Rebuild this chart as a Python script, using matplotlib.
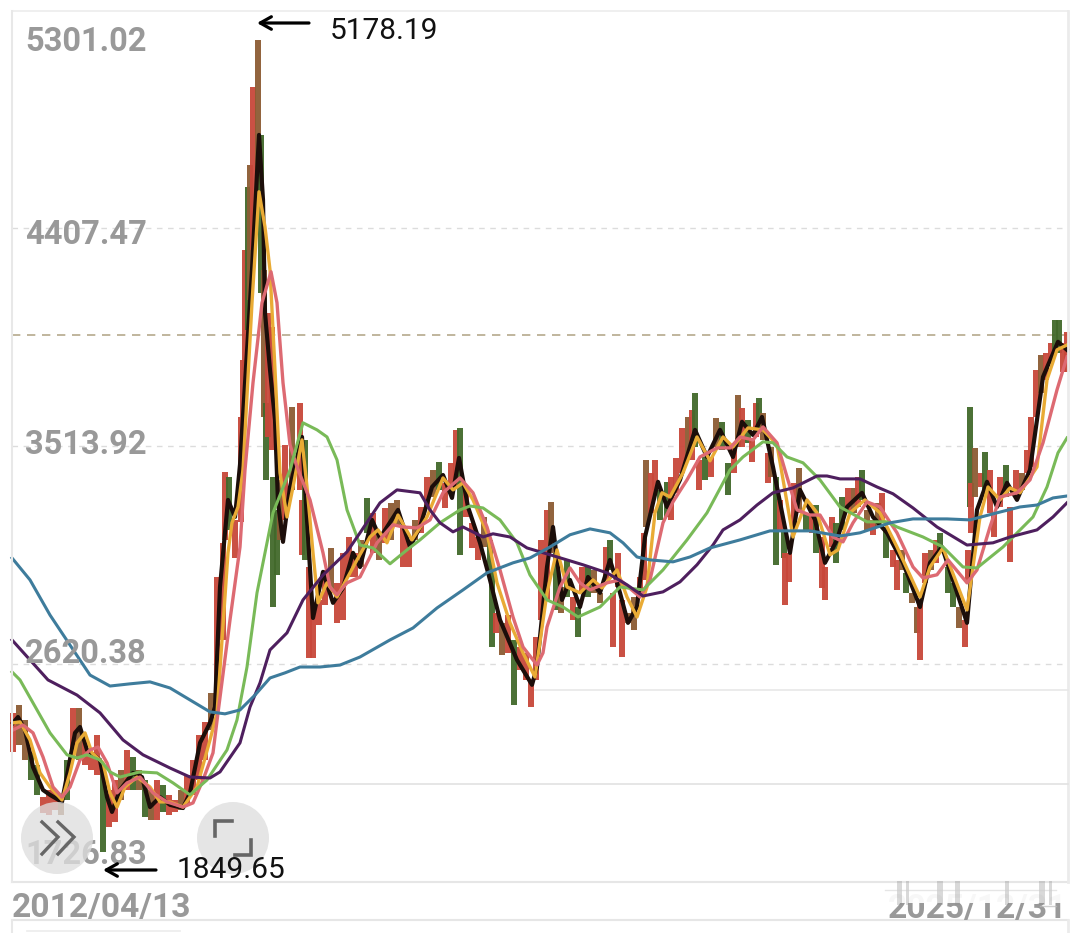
#!/usr/bin/env python3
import matplotlib
matplotlib.use("Agg")
import matplotlib.pyplot as plt
from matplotlib.patches import Circle, Rectangle

plt.rcParams['font.family'] = ['Roboto', 'DejaVu Sans']

# --- axis labels ---
price_labels = ['5301.02', '4407.47', '3513.92', '2620.38', '1726.83']
price_ticks = [5301.02, 4407.47, 3513.92, 2620.38, 1726.83]
date_labels = ['2012/04/13', '2025/12/31']
high_mark = 5178.19
low_mark = 1849.65
last_ref = 3969

# --- candles: position along the time axis, high, low, up/down colour ---
bar_pos = [
    13, 19, 25, 31, 37, 43, 49, 55, 61, 67,
    73, 79, 85, 91, 97, 103, 109, 115, 121, 127,
    133, 139, 145, 151, 157, 163, 169, 175, 181, 187,
    193, 199, 205, 211, 217, 223, 225, 229, 235, 241,
    243, 245, 248, 250, 253, 258, 261, 264, 266, 268,
    272, 273, 277, 280, 285, 292, 300, 302, 305, 309,
    313, 319, 325, 331, 337, 343, 349, 355, 361, 367,
    373, 379, 385, 391, 397, 403, 409, 415, 421, 427,
    433, 439, 445, 451, 456, 460, 466, 472, 478, 484,
    490, 492, 496, 502, 508, 514, 520, 526, 531, 536,
    541, 547, 551, 556, 561, 567, 573, 578, 582, 588,
    594, 600, 606, 610, 613, 618, 622, 628, 634, 640,
    644, 646, 651, 655, 660, 667, 671, 676, 682, 688,
    692, 695, 699, 705, 711, 716, 722, 728, 734, 738,
    742, 748, 752, 756, 759, 763, 768, 771, 776, 780,
    784, 785, 789, 794, 799, 806, 812, 816, 822, 825,
    832, 836, 842, 848, 854, 858, 862, 867, 873, 878,
    882, 886, 893, 897, 902, 906, 912, 917, 920, 925,
    931, 936, 940, 948, 953, 959, 965, 968, 970, 971,
    975, 981, 985, 990, 994, 1000, 1006, 1010, 1016, 1022,
    1027, 1031, 1036, 1041, 1046, 1051, 1055, 1059, 1063, 1067,
]
bar_high = [
    2420, 2453, 2391, 2256, 2207, 2075, 2104, 2104, 2084, 2227,
    2440, 2440, 2309, 2248, 2330, 2186, 2104, 2145, 2186, 2268,
    2239, 2186, 2145, 2104, 2145, 2125, 2084, 2063, 2104, 2166,
    2227, 2330, 2383, 2502, 2977, 3117, 3408, 3387, 3211, 3633,
    3867, 4318, 4576, 4666, 4986, 5179, 4789, 4236, 3691, 4060,
    4002, 3387, 3252, 3375, 3519, 3674, 3691, 3293, 3539, 3018,
    2854, 2883, 3006, 3096, 2953, 3076, 3141, 3076, 3129, 3301,
    3240, 3158, 3260, 3281, 3293, 3182, 3129, 3211, 3264, 3387,
    3416, 3449, 3363, 3445, 3580, 3588, 3334, 3199, 3141, 3223,
    3129, 3006, 2830, 2789, 2821, 2719, 2690, 2666, 2555, 2731,
    3129, 3252, 3285, 3076, 2936, 3047, 2895, 2854, 3018, 3018,
    3006, 2912, 3100, 3129, 2912, 3076, 2883, 2830, 2895, 2977,
    3158, 3457, 3404, 3457, 3334, 3367, 3387, 3465, 3588, 3633,
    3662, 3732, 3457, 3469, 3469, 3629, 3613, 3445, 3510, 3724,
    3670, 3621, 3539, 3691, 3711, 3650, 3486, 3510, 3387, 3293,
    3170, 3076, 3076, 3363, 3424, 3240, 3264, 3272, 3141, 3018,
    3223, 3199, 3305, 3342, 3342, 3387, 3416, 3252, 3211, 3281,
    3322, 3182, 3088, 3047, 3088, 2994, 2912, 2854, 2883, 3076,
    3088, 3129, 3158, 3018, 2953, 2854, 2801, 3088, 3674, 3363,
    3506, 3404, 3490, 3416, 3240, 3387, 3436, 3264, 3416, 3404,
    3498, 3633, 3826, 3888, 3896, 3937, 4031, 4031, 3937, 3982,
]
bar_low = [
    2260, 2288, 2227, 2145, 2084, 2010, 2001, 2022, 2001, 2063,
    2256, 2227, 2207, 2186, 2166, 1850, 1952, 1973, 2063, 2104,
    2104, 2104, 1993, 1981, 1981, 2014, 2001, 2014, 2022, 2043,
    2084, 2145, 2227, 2350, 2494, 2719, 3129, 3170, 3055, 3203,
    3457, 3826, 3990, 4113, 4318, 4523, 4142, 3633, 3375, 3551,
    3498, 2854, 2985, 3129, 3211, 3334, 3334, 3068, 3047, 2645,
    2645, 2781, 2863, 2912, 2789, 2801, 2977, 2977, 3018, 3158,
    3076, 3047, 3117, 3129, 3182, 3018, 3018, 3129, 3158, 3264,
    3305, 3334, 3260, 3322, 3346, 3068, 3223, 3096, 3047, 3100,
    3006, 2690, 2748, 2658, 2666, 2452, 2596, 2555, 2444, 2555,
    2801, 2883, 3076, 2842, 2830, 2895, 2801, 2731, 2912, 2895,
    2912, 2871, 2965, 3006, 2690, 2936, 2649, 2789, 2760, 2895,
    2965, 3182, 3240, 3334, 3211, 3223, 3211, 3322, 3404, 3469,
    3457, 3510, 3334, 3375, 3387, 3510, 3498, 3314, 3404, 3510,
    3510, 3527, 3449, 3551, 3568, 3539, 3363, 3387, 3027, 3170,
    3055, 2863, 2957, 3170, 3240, 3170, 3158, 3076, 2932, 2883,
    3100, 3035, 3170, 3240, 3240, 3264, 3293, 3170, 3150, 3182,
    3199, 3055, 3018, 2924, 3006, 2912, 2871, 2748, 2637, 2953,
    3006, 3035, 3076, 2912, 2854, 2768, 2690, 2953, 3264, 3158,
    3305, 3346, 3334, 3240, 3141, 3264, 3305, 3039, 3305, 3334,
    3404, 3428, 3633, 3732, 3785, 3855, 3896, 3896, 3818, 3818,
]
bar_kind = ("rbbggrrrbg" "rbrrrgrrbr" "gbgbrgrrbr" "rrrbrrrgrr" "rrgbrbgbgr"
            "rggbrbrrgr" "rrrbrrrrbg" "rbrbbrrbrr" "bgrrrgrrrb" "ggrbrgrrrr"
            "rrbgbgrgrg" "bbrgrrrbbr" "rbrrggrrrb" "rgrgrbggrb" "rgrrgbrbgr"
            "grrrbgrgrr" "rggrbrgbrb" "rgrrbgbbrr" "brgggbrrgr" "brgrrrgrrb"
            "rrrbrrggrr")

# --- moving averages ---
ma5_x = [13, 18, 25, 33, 43, 50, 62, 68, 75, 80, 87, 100, 107, 112, 120, 133, 142, 150, 160, 170,
         183, 190, 200, 210, 215, 220, 228, 235, 240, 252, 259, 263, 265, 270, 275, 278, 283, 290, 302, 307,
         313, 323, 333, 343, 353, 360, 372, 380, 398, 410, 420, 432, 443, 452, 459, 468, 480, 490, 500, 517,
         532, 537, 547, 553, 562, 570, 580, 588, 600, 610, 620, 628, 637, 645, 658, 667, 680, 695, 707, 720,
         733, 742, 753, 762, 773, 790, 800, 815, 825, 837, 847, 862, 873, 887, 903, 920, 930, 942, 967, 977,
         987, 997, 1007, 1017, 1030, 1043, 1058, 1067]
ma5_y = [2379, 2403, 2350, 2198, 2104, 2084, 2055, 2186, 2338, 2362, 2268, 2227, 2075, 2014, 2104, 2174, 2157, 2034, 2075, 2043,
         2030, 2092, 2297, 2379, 2444, 2936, 3293, 3223, 3437, 4236, 4789, 4523, 4060, 3826, 3621, 3281, 3121, 3346, 3551, 3211,
         2809, 2998, 2871, 2932, 3076, 3018, 3211, 3137, 3252, 3100, 3182, 3346, 3395, 3301, 3465, 3264, 3117, 2965, 2801, 2637,
         2535, 2608, 3018, 3182, 2883, 2965, 2854, 2977, 2912, 3047, 2912, 2789, 2854, 3141, 3367, 3264, 3375, 3580, 3469, 3580,
         3469, 3613, 3559, 3633, 3428, 3076, 3334, 3211, 3035, 3129, 3264, 3322, 3223, 3158, 3035, 2854, 3035, 3100, 2789, 3252,
         3367, 3264, 3363, 3293, 3416, 3797, 3941, 3908]

ma10_x = [13, 20, 30, 40, 50, 62, 70, 77, 85, 92, 103, 110, 117, 125, 137, 150, 160, 170, 183, 197,
          210, 217, 228, 232, 238, 243, 252, 259, 265, 270, 275, 280, 287, 293, 302, 307, 313, 318, 327, 337,
          357, 370, 378, 387, 398, 412, 427, 443, 453, 463, 473, 487, 497, 510, 523, 535, 547, 557, 567, 580,
          593, 602, 617, 627, 637, 647, 655, 662, 670, 683, 697, 710, 723, 733, 748, 763, 777, 793, 807, 817,
          830, 838, 850, 865, 880, 897, 920, 930, 943, 967, 980, 988, 1000, 1010, 1020, 1037, 1047, 1057, 1067]
ma10_y = [2379, 2383, 2309, 2174, 2116, 2063, 2174, 2297, 2338, 2256, 2215, 2092, 2034, 2116, 2157, 2116, 2055, 2055, 2034, 2116,
          2309, 2420, 3076, 3199, 3264, 3416, 4101, 4556, 4412, 4236, 3826, 3404, 3223, 3346, 3539, 3346, 3076, 2871, 2953, 2895,
          3047, 3141, 3170, 3117, 3231, 3129, 3223, 3383, 3334, 3363, 3293, 3158, 2953, 2789, 2666, 2567, 2912, 3088, 2936, 2912,
          2965, 2932, 3006, 2895, 2813, 2936, 3240, 3322, 3305, 3404, 3551, 3453, 3551, 3510, 3588, 3580, 3519, 3141, 3293, 3240,
          3068, 3088, 3240, 3293, 3240, 3100, 2895, 3018, 3096, 2842, 3223, 3346, 3293, 3342, 3322, 3428, 3785, 3908, 3928]

ma20_x = [13, 23, 33, 43, 53, 62, 70, 80, 90, 98, 107, 117, 127, 140, 153, 167, 183, 193, 203, 213,
          218, 230, 240, 245, 253, 262, 271, 277, 283, 290, 297, 310, 323, 330, 337, 347, 360, 377, 393, 403,
          417, 430, 443, 460, 473, 487, 500, 513, 523, 537, 543, 547, 560, 570, 580, 590, 607, 620, 640, 650,
          663, 673, 687, 700, 717, 730, 740, 753, 763, 777, 787, 797, 810, 820, 833, 843, 853, 867, 880, 897,
          913, 923, 937, 948, 967, 977, 990, 1000, 1017, 1030, 1043, 1057, 1067]
ma20_y = [2350, 2370, 2338, 2239, 2116, 2075, 2116, 2227, 2268, 2280, 2215, 2092, 2133, 2157, 2092, 2055, 2034, 2051, 2145, 2256,
          2420, 2801, 3100, 3416, 3773, 4101, 4228, 4101, 3773, 3519, 3428, 3293, 3076, 2936, 2904, 2953, 2977, 3117, 3191, 3182,
          3178, 3211, 3322, 3383, 3322, 3182, 3006, 2813, 2690, 2616, 2666, 2772, 2936, 3014, 2953, 2924, 2953, 2965, 2895, 2965,
          3199, 3285, 3375, 3469, 3506, 3506, 3551, 3539, 3592, 3527, 3387, 3252, 3231, 3231, 3141, 3121, 3199, 3285, 3264, 3158,
          3018, 2973, 2986, 3047, 2953, 3006, 3182, 3305, 3322, 3375, 3527, 3744, 3879]

ma60_x = [12, 20, 33, 50, 67, 77, 87, 100, 110, 120, 140, 157, 173, 190, 207, 227, 237, 247, 257, 273,
          290, 303, 317, 327, 337, 347, 360, 373, 390, 407, 420, 440, 460, 470, 483, 500, 517, 530, 547, 563,
          578, 600, 620, 643, 663, 687, 707, 730, 743, 763, 773, 787, 803, 820, 840, 867, 887, 897, 923, 943,
          963, 977, 1003, 1033, 1047, 1058, 1067]
ma60_y = [2588, 2555, 2461, 2338, 2248, 2235, 2248, 2227, 2178, 2157, 2178, 2174, 2133, 2084, 2145, 2268, 2391, 2608, 2912, 3240,
          3416, 3609, 3580, 3551, 3457, 3252, 3108, 3096, 3031, 3088, 3129, 3199, 3252, 3268, 3260, 3211, 3117, 2985, 2883, 2854,
          2813, 2854, 2936, 2924, 3006, 3129, 3240, 3416, 3469, 3531, 3527, 3469, 3445, 3375, 3264, 3203, 3203, 3182, 3141, 3100,
          3018, 3014, 3100, 3223, 3346, 3486, 3547]

ma120_x = [12, 30, 48, 77, 100, 123, 143, 170, 190, 210, 220, 240, 250, 260, 270, 287, 303, 323, 347, 360,
           380, 397, 420, 430, 440, 453, 463, 483, 493, 510, 527, 550, 583, 607, 627, 643, 663, 680, 697, 713,
           723, 740, 757, 773, 793, 817, 827, 840, 860, 877, 893, 913, 937, 967, 993, 1010, 1037, 1053, 1067]
ma120_y = [2719, 2637, 2555, 2493, 2420, 2309, 2248, 2194, 2157, 2153, 2178, 2297, 2444, 2543, 2678, 2748, 2883, 2985, 3080, 3158,
           3281, 3334, 3322, 3252, 3199, 3162, 3182, 3141, 3154, 3141, 3096, 3068, 3027, 2994, 2945, 2899, 2916, 2957, 3027, 3108,
           3170, 3211, 3272, 3322, 3342, 3391, 3391, 3379, 3379, 3346, 3318, 3260, 3182, 3108, 3117, 3141, 3170, 3223, 3281]

ma250_x = [12, 30, 50, 70, 90, 110, 130, 150, 170, 190, 210, 225, 240, 255, 270, 285, 300, 320, 340, 360,
           390, 413, 437, 463, 487, 513, 530, 550, 570, 590, 610, 623, 637, 650, 673, 690, 710, 740, 770, 810,
           840, 860, 890, 913, 947, 970, 997, 1020, 1037, 1053, 1067]
ma250_y = [3055, 2965, 2821, 2698, 2575, 2530, 2539, 2547, 2522, 2473, 2424, 2416, 2432, 2493, 2563, 2584, 2608, 2608, 2616, 2649,
           2719, 2768, 2850, 2924, 2994, 3035, 3055, 3100, 3150, 3174, 3158, 3117, 3059, 3047, 3039, 3059, 3096, 3129, 3166, 3166,
           3145, 3158, 3199, 3215, 3215, 3211, 3240, 3264, 3272, 3301, 3309]

BAR_COLORS = {'r': '#c8473a', 'b': '#8c5c33', 'g': '#42692b'}
GRAY = '#999999'

fig = plt.figure(figsize=(10.8, 9.33), dpi=100, facecolor='white')

# price panel covers the whole image so the price scale lines up with the labels
ax = fig.add_axes([0, 0, 1, 1])
ax.set_xlim(0, 1080)
ax.set_ylim(1517.7, 5342)
ax.axis('off')

# pixel overlay for the app chrome (borders, buttons, arrows)
ui = fig.add_axes([0, 0, 1, 1], zorder=5)
ui.set_xlim(0, 1080)
ui.set_ylim(933, 0)
ui.axis('off')
ui.patch.set_alpha(0)

# --- grid ---
for p in price_ticks[1:4]:
    ax.plot([12, 1068], [p, p], color='#dcdcdc', lw=1, ls=(0, (4, 4)), zorder=1)
ax.plot([12, 1068], [last_ref, last_ref], color='#b5a98c', lw=1.2, ls=(0, (5, 4)), zorder=1)

# faint static panel lines
ui.plot([12, 1068], [11, 11], color='#ececec', lw=1.2)
ui.plot([12, 1068], [882, 882], color='#e6e6e6', lw=1.5)
ui.plot([12, 1068], [920, 920], color='#e6e6e6', lw=1.5)
ui.plot([12, 12], [11, 882], color='#e8e8e8', lw=1.5)
ui.plot([12, 12], [920, 933], color='#e8e8e8', lw=1.5)
ui.plot([1068, 1068], [11, 882], color='#ebebeb', lw=2)
ui.plot([1068, 1068], [920, 933], color='#ebebeb', lw=2)
ui.plot([535, 1068], [690, 690], color='#e8e8e8', lw=1.2)
ui.plot([210, 1068], [784, 784], color='#e2e2e2', lw=1.2)
ui.plot([27, 180], [931, 931], color='#ececec', lw=1.2)

# --- candles ---
heights = [h - l for h, l in zip(bar_high, bar_low)]
ax.bar(bar_pos, heights, bottom=bar_low, width=6.0, linewidth=0,
       color=[BAR_COLORS[k] for k in bar_kind], alpha=0.95, zorder=2)

# --- moving averages ---
ax.plot(ma5_x, ma5_y, color='#1c0e0a', lw=3.0, zorder=3, solid_joinstyle='round')
ax.plot(ma10_x, ma10_y, color='#e9ab35', lw=2.4, zorder=4, solid_joinstyle='round')
ax.plot(ma20_x, ma20_y, color='#dd6a72', lw=2.4, zorder=5, solid_joinstyle='round')
ax.plot(ma60_x, ma60_y, color='#79ba58', lw=2.2, zorder=6, solid_joinstyle='round')
ax.plot(ma120_x, ma120_y, color='#4e1f5e', lw=2.2, zorder=7, solid_joinstyle='round')
ax.plot(ma250_x, ma250_y, color='#3e7c9c', lw=2.2, zorder=8, solid_joinstyle='round')

# --- axis labels ---
label_y = [42, 235, 445, 654, 855]
for txt, yy in zip(price_labels, label_y):
    ui.text(25, yy, txt, color=GRAY, fontsize=23.5, fontweight='bold', ha='left', va='center', zorder=2)
ui.text(12, 908, date_labels[0], color=GRAY, fontsize=24.2, fontweight='bold', ha='left', va='center', zorder=2)
ui.text(1067, 909, date_labels[1], color=GRAY, fontsize=24.2, fontweight='bold', ha='right', va='center', zorder=2)

# smeared top half of the right date label
ui.add_patch(Rectangle((872, 884), 196, 19, color='white', alpha=0.93, lw=0, zorder=3))
for sx, sw in [(899, 5), (907, 3), (940, 6), (957, 5), (1007, 4), (1042, 6), (1050, 3)]:
    ui.add_patch(Rectangle((sx - sw / 2, 881), sw, 24, color='#8a8a8a', alpha=0.32, lw=0, zorder=3))
ui.plot([885, 1056], [890, 890], color='#cccccc', lw=1, alpha=0.5, zorder=3)
ui.plot([1040, 1056], [906, 906], color='#bbbbbb', lw=1, alpha=0.7, zorder=3)

# --- high / low callouts ---
for x0, x1, yy in [(309, 257, 23), (156, 103, 870)]:
    ui.annotate('', xy=(x1, yy), xytext=(x0, yy), zorder=6,
                arrowprops=dict(arrowstyle='->,head_length=0.8,head_width=0.45', color='black', lw=2.3,
                                shrinkA=0, shrinkB=0))
ui.text(330, 31, f'{high_mark:.2f}', color='#111111', fontsize=21.5, ha='left', va='center', zorder=6)
ui.text(177, 870, f'{low_mark:.2f}', color='#111111', fontsize=21.5, ha='left', va='center', zorder=6)

# --- round buttons ---
for cx in [57, 233]:
    ui.add_patch(Circle((cx, 838), 36, color='#dedede', alpha=0.78, lw=0, zorder=5))
for off in [0, 16]:
    ui.plot([42 + off, 58 + off, 42 + off], [822, 837, 854], color='#666666', lw=2.4, zorder=7,
            solid_joinstyle='miter')
ui.plot([215, 215, 232], [836, 821, 821], color='#666666', lw=2.6, zorder=7, solid_joinstyle='miter')
ui.plot([235, 251, 251], [855, 855, 840], color='#666666', lw=2.6, zorder=7, solid_joinstyle='miter')

fig.savefig('out.png', dpi=100)
